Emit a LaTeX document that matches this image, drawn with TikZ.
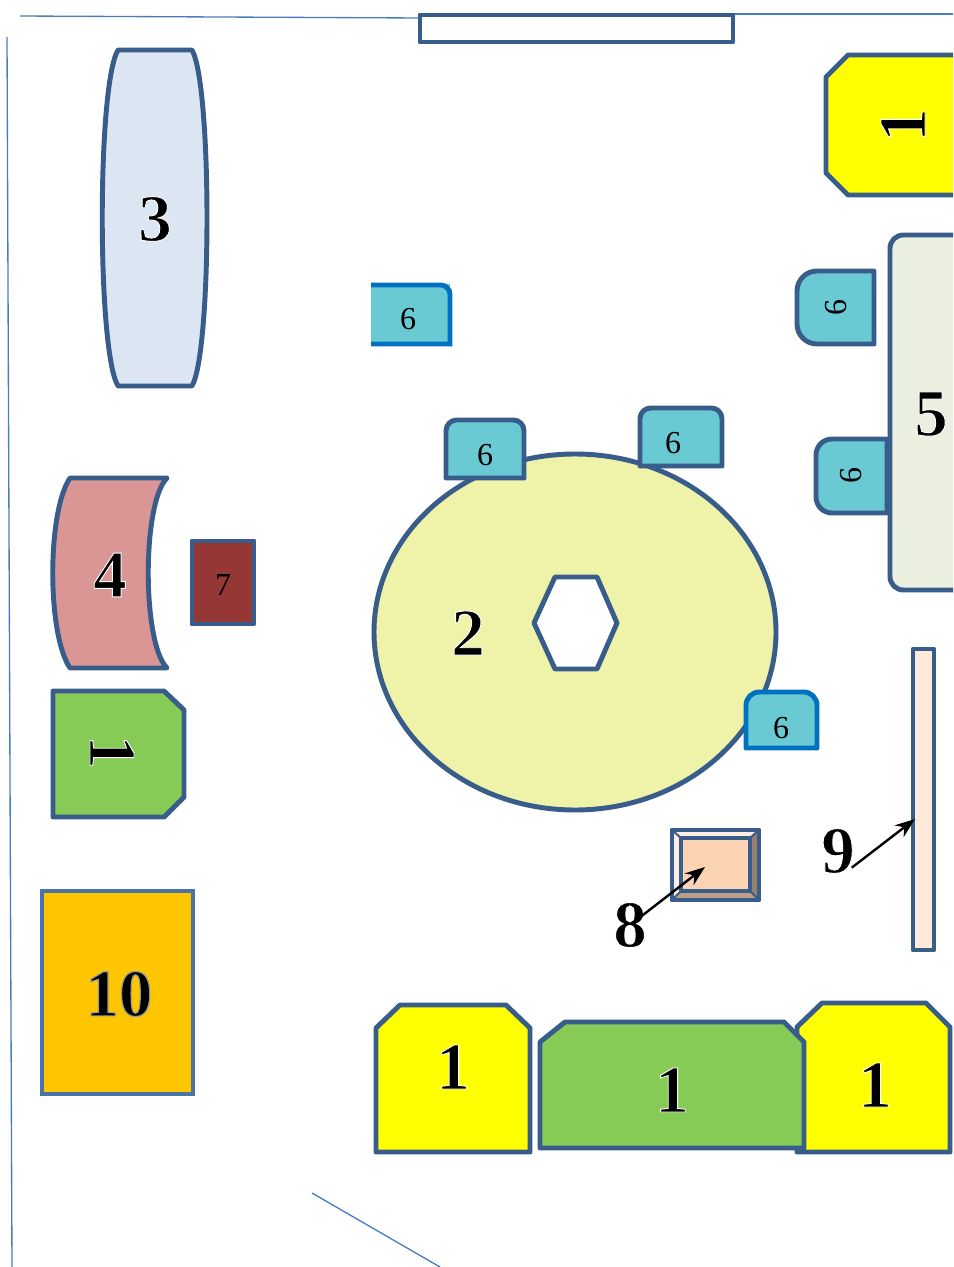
\documentclass[tikz,border=0pt]{standalone}
\usepackage{fontspec}
\usepackage{xcolor}
\setmainfont{Liberation Serif}
\newfontfamily\numface{Liberation Serif Bold}
\usetikzlibrary{arrows.meta}

\definecolor{edgeblue}{HTML}{385D8A}
\definecolor{softblue}{HTML}{4A74A4}
\definecolor{brightblue}{HTML}{0070C0}
\definecolor{thinblue}{HTML}{4A7EBB}
\definecolor{yellowbay}{HTML}{FFFF00}
\definecolor{greenbay}{HTML}{87CB57}
\definecolor{barrelblue}{HTML}{DCE6F2}
\definecolor{curvedred}{HTML}{D99694}
\definecolor{darkred}{HTML}{953735}
\definecolor{padcolor}{HTML}{69CAD4}
\definecolor{roundyellow}{HTML}{EFF3AA}
\definecolor{palegreen}{HTML}{EBEFDF}
\definecolor{peach}{HTML}{FDD4B3}
\definecolor{barpeach}{HTML}{FDEADA}
\definecolor{orangebox}{HTML}{FFC600}

\newcommand{\bignum}[1]{\special{pdf:code q 2 Tr 0.7 w 1 1 1 RG}{\numface #1}\special{pdf:code Q}}
\newcommand{\greynum}[1]{\special{pdf:code q 2 Tr 0.9 w 0.6 0.6 0.6 RG}{\numface #1}\special{pdf:code Q}}

\tikzset{
  shapeline/.style={draw=edgeblue, line width=3.7pt, line join=round},
  padline/.style={draw=edgeblue, line width=3.7pt, line join=round, fill=padcolor},
  thinline/.style={draw=thinblue, line width=1pt},
  bignode/.style={inner sep=0pt, font=\fontsize{50}{50}\selectfont},
  padnode/.style={inner sep=0pt, font=\fontsize{24}{24}\selectfont},
  pointer/.style={-{Stealth[length=15pt,width=11pt]}, line width=1.8pt, black}
}

\begin{document}
\begin{tikzpicture}[x=0.75pt,y=-0.75pt]
  \clip (0,0) rectangle (953,1267);
  \fill[white] (0,0) rectangle (953,1267);

  % thin outline of the room
  \draw[thinline] (20,16) -- (420,18);
  \draw[thinline] (672,14) -- (953,14);
  \draw[thinline] (7,37) -- (12,1267);
  \draw[thinline] (312,1193) -- (440,1267);
  \draw[shapeline, fill=white] (420,15) rectangle (733,42);

  % left side
  \draw[shapeline, fill=barrelblue] (118,50) -- (192,50) .. controls (212,85) and (212,351) .. (192,386)
    -- (118,386) .. controls (97,351) and (97,85) .. (118,50) -- cycle;
  \draw[shapeline, fill=curvedred] (70,478) -- (167,478) .. controls (142,503) and (142,643) .. (167,668)
    -- (70,668) .. controls (47,634) and (47,512) .. (70,478) -- cycle;
  \draw[shapeline, fill=darkred] (192,541) rectangle (254,624);
  \draw[shapeline, fill=greenbay] (53,691) -- (164,691) -- (184,710) -- (184,797) -- (164,817) -- (53,817) -- cycle;
  \draw[draw=softblue, line width=3pt, fill=orangebox] (42,891) rectangle (193,1094);

  % round table and the pads around it
  \draw[shapeline, fill=roundyellow] (575,632) ellipse [x radius=201, y radius=178];
  \draw[shapeline, fill=white] (534,623) -- (555,577) -- (597,577) -- (617,623) -- (597,669) -- (555,669) -- cycle;
  \draw[padline] (446,478) [rounded corners=8pt] -- (446,420) -- (524,420) [sharp corners] -- (524,478) -- cycle;
  \draw[padline] (640,466) [rounded corners=8pt] -- (640,408) -- (722,408) [sharp corners] -- (722,466) -- cycle;
  \draw[padline, draw=brightblue] (746,748) [rounded corners=10pt] -- (746,692) -- (817,692) [sharp corners] -- (817,748) -- cycle;
  \fill[padcolor] (371,284) rectangle (450,345);
  \draw[line width=3.7pt, draw=brightblue] (371,285) [rounded corners=7pt] -- (450,285) [sharp corners] -- (450,344) -- (371,344);

  % right side
  \draw[shapeline, fill=yellowbay] (848,55) -- (975,55) -- (975,195) -- (848,195) -- (826,173) -- (826,77) -- cycle;
  \draw[shapeline, fill=palegreen] (975,235) [rounded corners=10pt] -- (890,235) -- (890,590) [sharp corners] -- (975,590) -- cycle;
  \draw[padline] (874,271) [rounded corners=15pt] -- (797,271) -- (797,344) [sharp corners] -- (874,344) -- cycle;
  \draw[padline] (887,439) [rounded corners=12pt] -- (816,439) -- (816,513) [sharp corners] -- (887,513) -- cycle;
  \draw[shapeline, line width=3.2pt, fill=barpeach] (913,649) rectangle (934,950);

  % small framed box
  \fill[peach] (672,830) rectangle (759,900);
  \fill[peach!40!white] (672,830) -- (759,830) -- (750,838) -- (681,838) -- cycle;
  \fill[peach!40!white] (672,830) -- (672,900) -- (681,891) -- (681,838) -- cycle;
  \fill[peach!60!black] (759,830) -- (759,900) -- (750,891) -- (750,838) -- cycle;
  \fill[peach!75!black] (672,900) -- (759,900) -- (750,891) -- (681,891) -- cycle;
  \draw[edgeblue, line width=1.5pt] (672,830) -- (681,838) (759,830) -- (750,838) (672,900) -- (681,891) (759,900) -- (750,891);
  \draw[edgeblue, line width=3.4pt] (681,838) rectangle (750,891);
  \draw[shapeline] (672,830) rectangle (759,900);

  % row along the bottom
  \draw[shapeline, fill=yellowbay] (376,1028) -- (400,1005) -- (506,1005) -- (530,1028) -- (530,1152) -- (376,1152) -- cycle;
  \draw[shapeline, fill=yellowbay] (797,1027) -- (822,1003) -- (926,1003) -- (950,1027) -- (950,1152) -- (797,1152) -- cycle;
  \draw[shapeline, fill=greenbay] (540,1042) -- (565,1022) -- (784,1022) -- (804,1042) -- (804,1148) -- (540,1148) -- cycle;

  % labels
  \node[bignode] (three) at (155,219) {\bignum{3}};
  \node[bignode] (four) at (110,575) {\bignum{4}};
  \node[bignode] (two) at (468,633) {\bignum{2}};
  \node[bignode] (five) at (931,414) {\bignum{5}};
  \node[bignode, rotate=90] (oneTop) at (903,125) {\bignum{1}};
  \node[bignode, rotate=-90] (oneLeft) at (112,752) {\bignum{1}};
  \node[bignode] (ten) at (119,994) {\greynum{10}};
  \node[bignode] (oneA) at (453,1067) {\bignum{1}};
  \node[bignode] (oneB) at (672,1090) {\bignum{1}};
  \node[bignode] (oneC) at (875,1085) {\bignum{1}};
  \node[bignode] (eight) at (630,925) {\bignum{8}};
  \node[bignode] (nine) at (838,851) {\bignum{9}};

  \node[padnode] (padA) at (485,455) {6};
  \node[padnode] (padB) at (673,443) {6};
  \node[padnode] (padC) at (781,728) {6};
  \node[padnode] (padD) at (408,319) {6};
  \node[padnode, rotate=90] (padE) at (836,307) {6};
  \node[padnode, rotate=90] (padF) at (851,475) {6};
  \node[padnode] (seven) at (223,585) {7};

  % arrows
  \coordinate (eightTip) at (705,867);
  \coordinate (nineTip) at (915,819);
  \draw[pointer, shorten <=-13pt] (eight) -- (eightTip);
  \draw[pointer, shorten <=-3pt] (nine.-40) -- (nineTip);
\end{tikzpicture}
\end{document}
